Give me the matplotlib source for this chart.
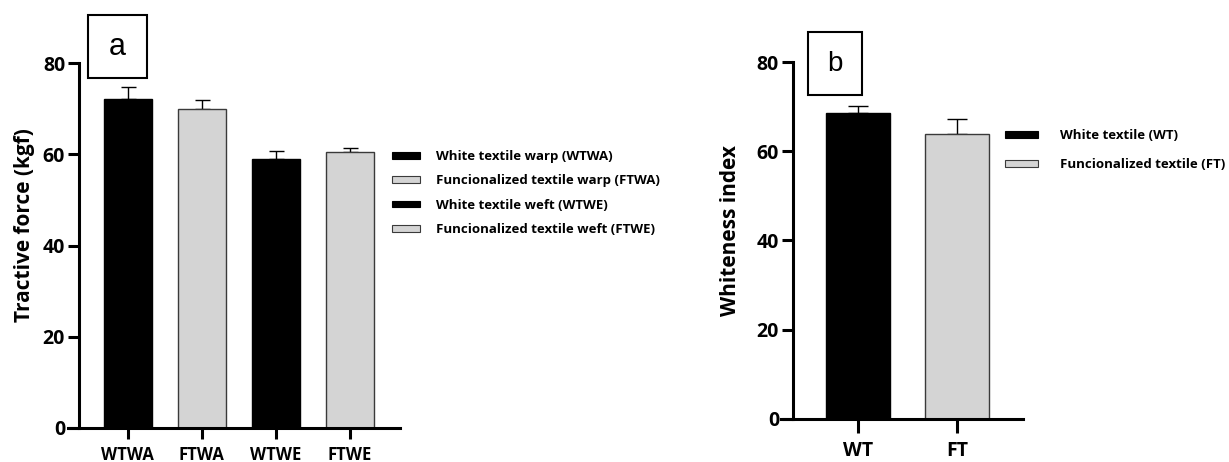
import matplotlib
matplotlib.use('Agg')
import matplotlib.pyplot as plt
from matplotlib.patches import Patch, Rectangle

# panel a: tractive force
cats_a = ['WTWA', 'FTWA', 'WTWE', 'FTWE']
force = [72.1, 69.9, 59.0, 60.6]
force_err = [2.6, 2.0, 1.8, 0.7]
labels_a = ['White textile warp (WTWA)', 'Funcionalized textile warp (FTWA)',
            'White textile weft (WTWE)', 'Funcionalized textile weft (FTWE)']

# panel b: whiteness index
cats_b = ['WT', 'FT']
white = [68.6, 63.9]
white_err = [1.5, 3.4]
labels_b = ['White textile (WT)', 'Funcionalized textile (FT)']

BLACK = '#000000'
GREY = '#d4d4d4'
EDGE = '#3a3a3a'

plt.rcParams['font.family'] = ['Open Sans', 'DejaVu Sans']
plt.rcParams['font.weight'] = 'bold'

fig = plt.figure(figsize=(12.29, 4.62), dpi=100)


def style_axes(ax, ticks):
    for s in ['top', 'right']:
        ax.spines[s].set_visible(False)
    for s in ['left', 'bottom']:
        ax.spines[s].set_linewidth(2.2)
    ax.set_ylim(0, 80)
    ax.set_yticks([0, 20, 40, 60, 80])
    ax.tick_params(axis='both', direction='out', width=2.2, length=8,
                   labelsize=14, pad=2)
    ax.set_xticks(ticks)


def bars(ax, vals, errs, colors, capsize):
    xs = list(range(len(vals)))
    ax.bar(xs, vals, width=0.65, color=colors,
           edgecolor=[EDGE if c == GREY else BLACK for c in colors], linewidth=1.0,
           zorder=2)
    ax.errorbar(xs, vals, yerr=[[0] * len(vals), errs], fmt='none',
                ecolor=BLACK, elinewidth=1.0, capsize=capsize, capthick=1.0,
                zorder=1)
    return xs


# ---- panel a
ax1 = fig.add_axes([0.0643, 0.0736, 0.2612, 0.79])
cols_a = [BLACK, GREY, BLACK, GREY]
xs = bars(ax1, force, force_err, cols_a, 5.4)
style_axes(ax1, xs)
ax1.set_xticklabels(cats_a, fontsize=12)
ax1.tick_params(axis='x', length=8, pad=5)
ax1.set_xlim(-0.66, 3.68)
ax1.spines['bottom'].set_bounds(-0.81, 3.68)
ax1.set_ylabel('Tractive force (kgf)', fontsize=15, fontweight='bold')
ax1.yaxis.set_label_coords(-0.137, 0.556)

h_a = [Patch(facecolor=c, edgecolor=EDGE if c == GREY else BLACK, linewidth=0.8)
       for c in cols_a]
fig.legend(h_a, labels_a, loc='upper left', bbox_to_anchor=(0.319, 0.675),
           frameon=False, borderpad=0, borderaxespad=0, handlelength=2.1,
           handleheight=0.4, handletextpad=1.2, labelspacing=0.86,
           prop={'family': 'Open Sans', 'weight': 'bold', 'size': 9.5})

fig.add_artist(Rectangle((0.0716, 0.8312), 0.048, 0.1364, transform=fig.transFigure,
                         fill=False, edgecolor=BLACK, linewidth=1.5))
fig.text(0.0716 + 0.024, 0.8312 + 0.068, 'a', ha='center', va='center',
         fontsize=22, fontweight='normal', family='Liberation Sans')

# ---- panel b
ax2 = fig.add_axes([0.6452, 0.0931, 0.1872, 0.7727])
cols_b = [BLACK, GREY]
xs = bars(ax2, white, white_err, cols_b, 7.5)
style_axes(ax2, xs)
ax2.set_xticklabels(cats_b, fontsize=14)
ax2.tick_params(axis='x', length=10, pad=6)
ax2.set_xlim(-0.66, 1.67)
ax2.spines['bottom'].set_bounds(-0.78, 1.67)
ax2.set_ylabel('Whiteness index', fontsize=15, fontweight='bold')
ax2.yaxis.set_label_coords(-0.227, 0.527)

h_b = [Patch(facecolor=c, edgecolor=EDGE if c == GREY else BLACK, linewidth=0.8)
       for c in cols_b]
fig.legend(h_b, labels_b, loc='upper left', bbox_to_anchor=(0.8177, 0.72),
           frameon=False, borderpad=0, borderaxespad=0, handlelength=2.5,
           handleheight=0.45, handletextpad=1.7, labelspacing=1.2,
           prop={'family': 'Open Sans', 'weight': 'bold', 'size': 9.5})

fig.add_artist(Rectangle((0.6574, 0.7944), 0.0439, 0.1364, transform=fig.transFigure,
                         fill=False, edgecolor=BLACK, linewidth=1.5))
fig.text(0.6574 + 0.022, 0.7944 + 0.068, 'b', ha='center', va='center',
         fontsize=20, fontweight='normal', family='Liberation Sans')

fig.savefig('out.png', dpi=100)
